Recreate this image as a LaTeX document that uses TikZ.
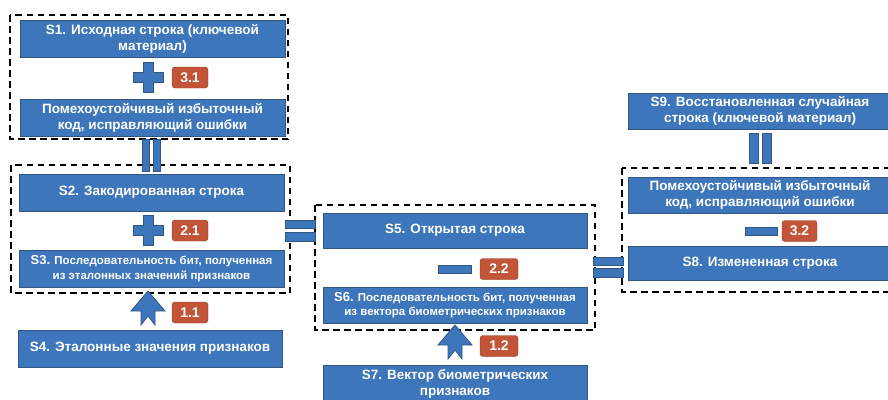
\documentclass[tikz,border=0pt]{standalone}
\usepackage{fontspec}
\setmainfont{Liberation Sans}
\usetikzlibrary{calc}

\definecolor{boxblue}{RGB}{62,118,188}
\definecolor{boxline}{RGB}{50,86,132}
\definecolor{tagred}{RGB}{194,84,56}
\definecolor{tagline}{RGB}{140,55,35}

\tikzset{
  stage/.style={draw=boxline, fill=boxblue, text=white, align=center,
    font=\bfseries\fontsize{13.5}{16}\selectfont,
    minimum width=265, minimum height=37, inner sep=1pt},
  small/.style={font=\bfseries\fontsize{11.5}{14.5}\selectfont},
  tag/.style={draw=tagline, fill=tagred, text=white, rounded corners=3pt,
    font=\bfseries\fontsize{14}{14}\selectfont,
    minimum width=36, minimum height=21, inner sep=0pt},
  sign/.style={draw=boxline, fill=boxblue, line width=0.8pt},
  bar/.style={sign, minimum width=32, minimum height=8, inner sep=0pt},
  group/.style={draw=black, line width=1.8pt, dash pattern=on 6.5pt off 4.5pt},
}

\begin{document}
\begin{tikzpicture}[x=1pt,y=-1pt]

\useasboundingbox (0,0) rectangle (888,399);
\clip (0,0) rectangle (888,399);

% left column
\node [stage] (S1) at (152.5,38.5) {S1. Исходная строка (ключевой\\ материал)};
\node [stage] (C1) at (152.5,117.5) {Помехоустойчивый избыточный\\ код, исправляющий ошибки};
\node [stage] (S2) at (151.5,192.5) {S2. Закодированная строка};
\node [stage, small] (S3) at (151.5,268.5) {{\fontsize{13}{14}\selectfont S3.} Последовательность бит, полученная\\ из эталонных значений признаков};
\node [stage, minimum width=264] (S4) at (150,348.5) {S4. Эталонные значения признаков};

% middle column
\node [stage, minimum width=264, minimum height=35] (S5) at (455,230.5) {S5. Открытая строка};
\node [stage, small, minimum width=264, minimum height=36] (S6) at (455,305) {{\fontsize{13}{14}\selectfont S6.} Последовательность бит, полученная\\ из вектора биометрических признаков};
\node [stage, minimum width=264, minimum height=38] (S7) at (455,384) {S7. Вектор биометрических\\ признаков};

% right column
\node [stage, minimum width=264, minimum height=36] (S9) at (760,111) {S9. Восстановленная случайная\\ строка (ключевой материал)};
\node [stage, minimum width=264, minimum height=36] (C2) at (760,195) {Помехоустойчивый избыточный\\ код, исправляющий ошибки};
\node [stage, minimum width=264, minimum height=34] (S8) at (760,263) {S8. Измененная строка};

\draw [group] (10,15) rectangle (288,139);
\draw [group] (11,165) rectangle (290,293);
\draw [group] (315,205) rectangle (595,330);
\draw [group] (622,168) rectangle (896,292);

% operations
\coordinate (P31) at (148,77);
\coordinate (P21) at (148,230);
\draw [sign] (P31) ++(-5,-15) -- ++(10,0) -- ++(0,10) -- ++(10,0) -- ++(0,10) -- ++(-10,0)
  -- ++(0,10) -- ++(-10,0) -- ++(0,-10) -- ++(-10,0) -- ++(0,-10) -- ++(10,0) -- cycle;
\draw [sign] (P21) ++(-5,-15) -- ++(10,0) -- ++(0,10) -- ++(10,0) -- ++(0,10) -- ++(-10,0)
  -- ++(0,10) -- ++(-10,0) -- ++(0,-10) -- ++(-10,0) -- ++(0,-10) -- ++(10,0) -- cycle;
\node [bar, minimum width=33] (M22) at (455,269) {};
\node [bar] (M32) at (761,231) {};

\node [tag] (T31) at (190,77.5) {3.1};
\node [tag] (T21) at (190,230.5) {2.1};
\node [tag] (T11) at (190,312.5) {1.1};
\node [tag, minimum width=38] (T22) at (499,269) {2.2};
\node [tag, minimum width=38] (T12) at (499,346) {1.2};
\node [tag, minimum width=35] (T32) at (799.5,231) {3.2};

% arrows
\coordinate (A11) at (148,291);
\coordinate (A12) at (455,325);
\draw [sign] (A11) -- ++(17,20) -- ++(-10,0) -- ++(0,14) -- ++(-7,-9) -- ++(-7,9)
  -- ++(0,-14) -- ++(-10,0) -- cycle;
\draw [sign] (A12) -- ++(17,20) -- ++(-10,0) -- ++(0,14) -- ++(-7,-9) -- ++(-7,9)
  -- ++(0,-14) -- ++(-10,0) -- cycle;

% equal signs
\draw [sign] ($ (C1.south) + (-10,3) $) rectangle +(7,32);
\draw [sign] ($ (C1.south) + (1,3) $) rectangle +(7,32);
\draw [sign] ($ (S9.south) + (-11,4) $) rectangle +(9,30);
\draw [sign] ($ (S9.south) + (2,4) $) rectangle +(9,30);
\draw [sign] (285,220) rectangle (315,228);
\draw [sign] (285,232) rectangle (315,241);
\draw [sign] (593,257) rectangle (623,265);
\draw [sign] (593,268) rectangle (623,277);

\end{tikzpicture}
\end{document}
